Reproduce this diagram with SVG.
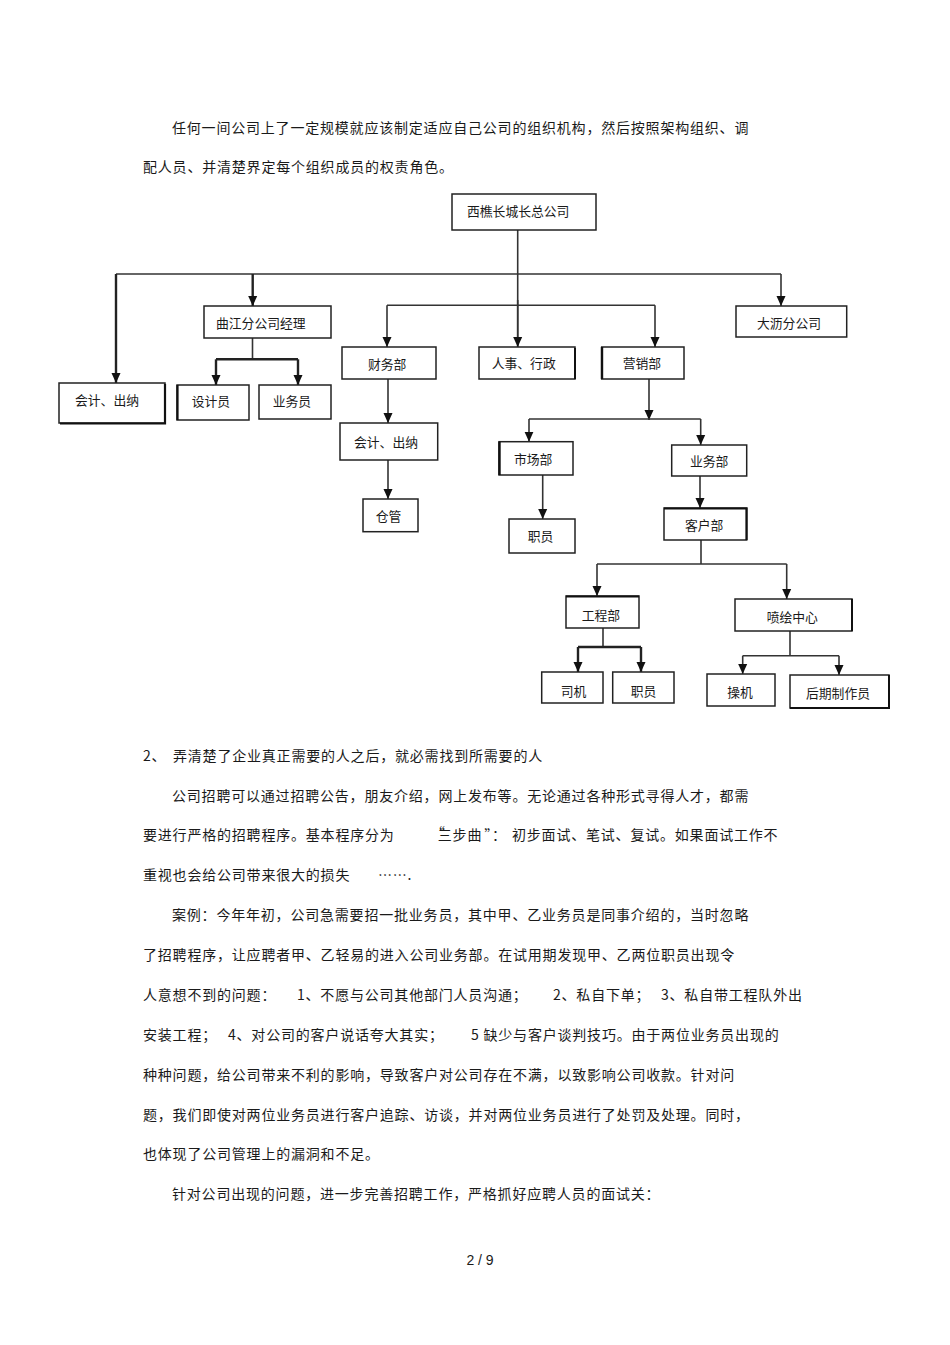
<svg xmlns="http://www.w3.org/2000/svg" width="950" height="1345" viewBox="0 0 950 1345">
<style>
.body{font-family:"Noto Sans CJK SC","Liberation Sans",sans-serif;font-size:14px;letter-spacing:0.8px;fill:#1a1a1a}
.lbl{font-family:"Noto Sans CJK SC","Liberation Sans",sans-serif;font-size:12.8px;fill:#1a1a1a}
.box{fill:#fff;stroke:#222;stroke-width:1.5}
.c{fill:none;stroke:#333;stroke-width:1.6}
.t{fill:none;stroke:#222;stroke-width:2.4}
.a{marker-end:url(#ah)}
</style>
<defs>
<marker id="ah" viewBox="0 0 10 10" refX="10" refY="5" markerWidth="10" markerHeight="10" markerUnits="userSpaceOnUse" orient="auto">
<path d="M0,0.5 L10,5 L0,9.5 z" fill="#111"/>
</marker>
</defs>
<rect width="950" height="1345" fill="#fff"/>

<g id="intro">
<text class="body" x="172" y="133">任何一间公司上了一定规模就应该制定适应自己公司的组织机构，然后按照架构组织、调</text>
<text class="body" x="143" y="172">配人员、并清楚界定每个组织成员的权责角色。</text>
</g>

<g id="connectors">
<path class="c" d="M517.7,230 V347"/>
<path class="c" d="M116,274 H781"/>
<path class="t a" d="M116,274 V383"/>
<path class="t a" d="M252.7,274 V306"/>
<path class="c a" d="M781,274 V306"/>
<path class="c" d="M387,305.3 H655"/>
<path class="c a" d="M387,305.3 V347"/>
<path class="c a" d="M655,305.3 V347"/>
<path class="c a" d="M517.7,300 V347"/>
<path class="c" d="M252.5,338 V359.3"/>
<path class="t" d="M216,359.3 H298"/>
<path class="t a" d="M216,359.3 V385"/>
<path class="t a" d="M298,359.3 V385"/>
<path class="c a" d="M388,379 V423"/>
<path class="c a" d="M388,460 V499"/>
<path class="c a" d="M649,379 V420"/>
<path class="c" d="M529,419 H700.7"/>
<path class="c a" d="M529,419 V441.7"/>
<path class="c a" d="M700.7,419 V445"/>
<path class="c a" d="M542.7,475 V519"/>
<path class="c a" d="M700,476 V508"/>
<path class="c" d="M701,540 V564"/>
<path class="c" d="M597,564 H786.7"/>
<path class="c a" d="M597,564 V596"/>
<path class="c a" d="M786.7,564 V599"/>
<path class="c" d="M603,628 V647"/>
<path class="t" d="M578,647 H641"/>
<path class="t a" d="M578,647 V672"/>
<path class="t a" d="M641,647 V672"/>
<path class="c" d="M790,631 V655.7"/>
<path class="c" d="M742.7,655.7 H839"/>
<path class="c a" d="M742.7,655.7 V674"/>
<path class="c a" d="M839,655.7 V675"/>
</g>

<g id="n-hq"><rect class="box" x="452" y="194" width="144" height="36"/><text class="lbl" x="467" y="215.5">西樵长城长总公司</text></g>
<g id="n-qujiang"><rect class="box" x="204" y="306" width="127" height="32"/><text class="lbl" x="216" y="328">曲江分公司经理</text></g>
<g id="n-dali"><rect class="box" x="736" y="306" width="110.7" height="31"/><text class="lbl" x="757" y="327.5">大沥分公司</text></g>
<g id="n-acct1"><rect class="box" x="59" y="383" width="106" height="40"/><path d="M165,384 V423.5 H60" fill="none" stroke="#111" stroke-width="2.2"/><text class="lbl" x="75" y="404.5">会计、出纳</text></g>
<g id="n-designer"><rect class="box" x="177" y="385" width="72" height="35"/><path d="M177.5,385 V420" stroke="#111" stroke-width="2.2"/><text class="lbl" x="191.7" y="406">设计员</text></g>
<g id="n-sales1"><rect class="box" x="259" y="385" width="72" height="34"/><text class="lbl" x="272.7" y="405.5">业务员</text></g>
<g id="n-finance"><rect class="box" x="342" y="347" width="94" height="32"/><text class="lbl" x="368" y="368.5">财务部</text></g>
<g id="n-hr"><rect class="box" x="479" y="347" width="96" height="32"/><path d="M575,348 V379" stroke="#111" stroke-width="2"/><text class="lbl" x="491.7" y="367.5">人事、行政</text></g>
<g id="n-marketing"><rect class="box" x="601.7" y="347" width="82.3" height="32"/><path d="M602,347 V379" stroke="#111" stroke-width="2.4"/><text class="lbl" x="622.7" y="367.5">营销部</text></g>
<g id="n-acct2"><rect class="box" x="340" y="423" width="97.7" height="37"/><text class="lbl" x="354" y="446.5">会计、出纳</text></g>
<g id="n-warehouse"><rect class="box" x="363" y="499" width="55" height="32.7"/><text class="lbl" x="375.7" y="521">仓管</text></g>
<g id="n-market"><rect class="box" x="499" y="441.7" width="74" height="33.3"/><path d="M499.5,441.7 V475" stroke="#111" stroke-width="2.4"/><text class="lbl" x="514" y="463.5">市场部</text></g>
<g id="n-staff1"><rect class="box" x="509" y="519" width="66" height="34"/><text class="lbl" x="527.7" y="541">职员</text></g>
<g id="n-bizdept"><rect class="box" x="671.7" y="445" width="75" height="31"/><text class="lbl" x="690" y="466">业务部</text></g>
<g id="n-client"><rect class="box" x="664" y="508" width="82.7" height="32"/><path d="M664,508.5 H746.5 V540" fill="none" stroke="#111" stroke-width="2.2"/><text class="lbl" x="685" y="530">客户部</text></g>
<g id="n-eng"><rect class="box" x="566" y="596" width="73" height="32"/><path d="M566,596.5 H639" stroke="#111" stroke-width="2"/><text class="lbl" x="581.7" y="619.5">工程部</text></g>
<g id="n-print"><rect class="box" x="735" y="599" width="117" height="32"/><path d="M852,599 V631" stroke="#111" stroke-width="2"/><text class="lbl" x="766.7" y="621.5">喷绘中心</text></g>
<g id="n-driver"><rect class="box" x="541.7" y="672" width="61.3" height="31"/><text class="lbl" x="560.7" y="696">司机</text></g>
<g id="n-staff2"><rect class="box" x="612.7" y="672" width="61.3" height="31"/><text class="lbl" x="630.7" y="695.5">职员</text></g>
<g id="n-operator"><rect class="box" x="707" y="674" width="68" height="32"/><text class="lbl" x="727.3" y="697">操机</text></g>
<g id="n-post"><rect class="box" x="790" y="675" width="99" height="33"/><path d="M790,708 H889 V675" fill="none" stroke="#111" stroke-width="2"/><text class="lbl" x="806" y="697.5">后期制作员</text></g>

<g id="text">
<text class="body" x="143" y="761">2、</text>
<text class="body" x="173" y="761">弄清楚了企业真正需要的人之后，就必需找到所需要的人</text>
<text class="body" x="172" y="801">公司招聘可以通过招聘公告，朋友介绍，网上发布等。无论通过各种形式寻得人才，都需</text>
<text class="body" x="143" y="840">要进行严格的招聘程序。基本程序分为</text>
<text class="body" x="431" y="840"><tspan dy="-2">“</tspan><tspan dx="-8" dy="2">三步曲</tspan><tspan dx="2">”：</tspan></text>
<text class="body" x="512" y="840">初步面试、笔试、复试。如果面试工作不</text>
<text class="body" x="143" y="880">重视也会给公司带来很大的损失</text>
<text class="body" x="378" y="880">…….</text>
<text class="body" x="172" y="920">案例：今年年初，公司急需要招一批业务员，其中甲、乙业务员是同事介绍的，当时忽略</text>
<text class="body" x="143" y="960">了招聘程序，让应聘者甲、乙轻易的进入公司业务部。在试用期发现甲、乙两位职员出现令</text>
<text class="body" x="143" y="1000">人意想不到的问题：</text>
<text class="body" x="297" y="1000">1、不愿与公司其他部门人员沟通；</text>
<text class="body" x="553" y="1000">2、私自下单；</text>
<text class="body" x="661" y="1000">3、私自带工程队外出</text>
<text class="body" x="143" y="1040">安装工程；</text>
<text class="body" x="228" y="1040">4、对公司的客户说话夸大其实；</text>
<text class="body" x="471" y="1040">5 缺少与客户谈判技巧。由于两位业务员出现的</text>
<text class="body" x="143" y="1080">种种问题，给公司带来不利的影响，导致客户对公司存在不满，以致影响公司收款。针对问</text>
<text class="body" x="143" y="1120">题，我们即使对两位业务员进行客户追踪、访谈，并对两位业务员进行了处罚及处理。同时，</text>
<text class="body" x="143" y="1159">也体现了公司管理上的漏洞和不足。</text>
<text class="body" x="172" y="1199">针对公司出现的问题，进一步完善招聘工作，严格抓好应聘人员的面试关：</text>
<text x="480" y="1265" text-anchor="middle" style="font-family:'Liberation Sans',sans-serif;font-size:14px;fill:#1a1a1a">2 / 9</text>
</g>
</svg>
